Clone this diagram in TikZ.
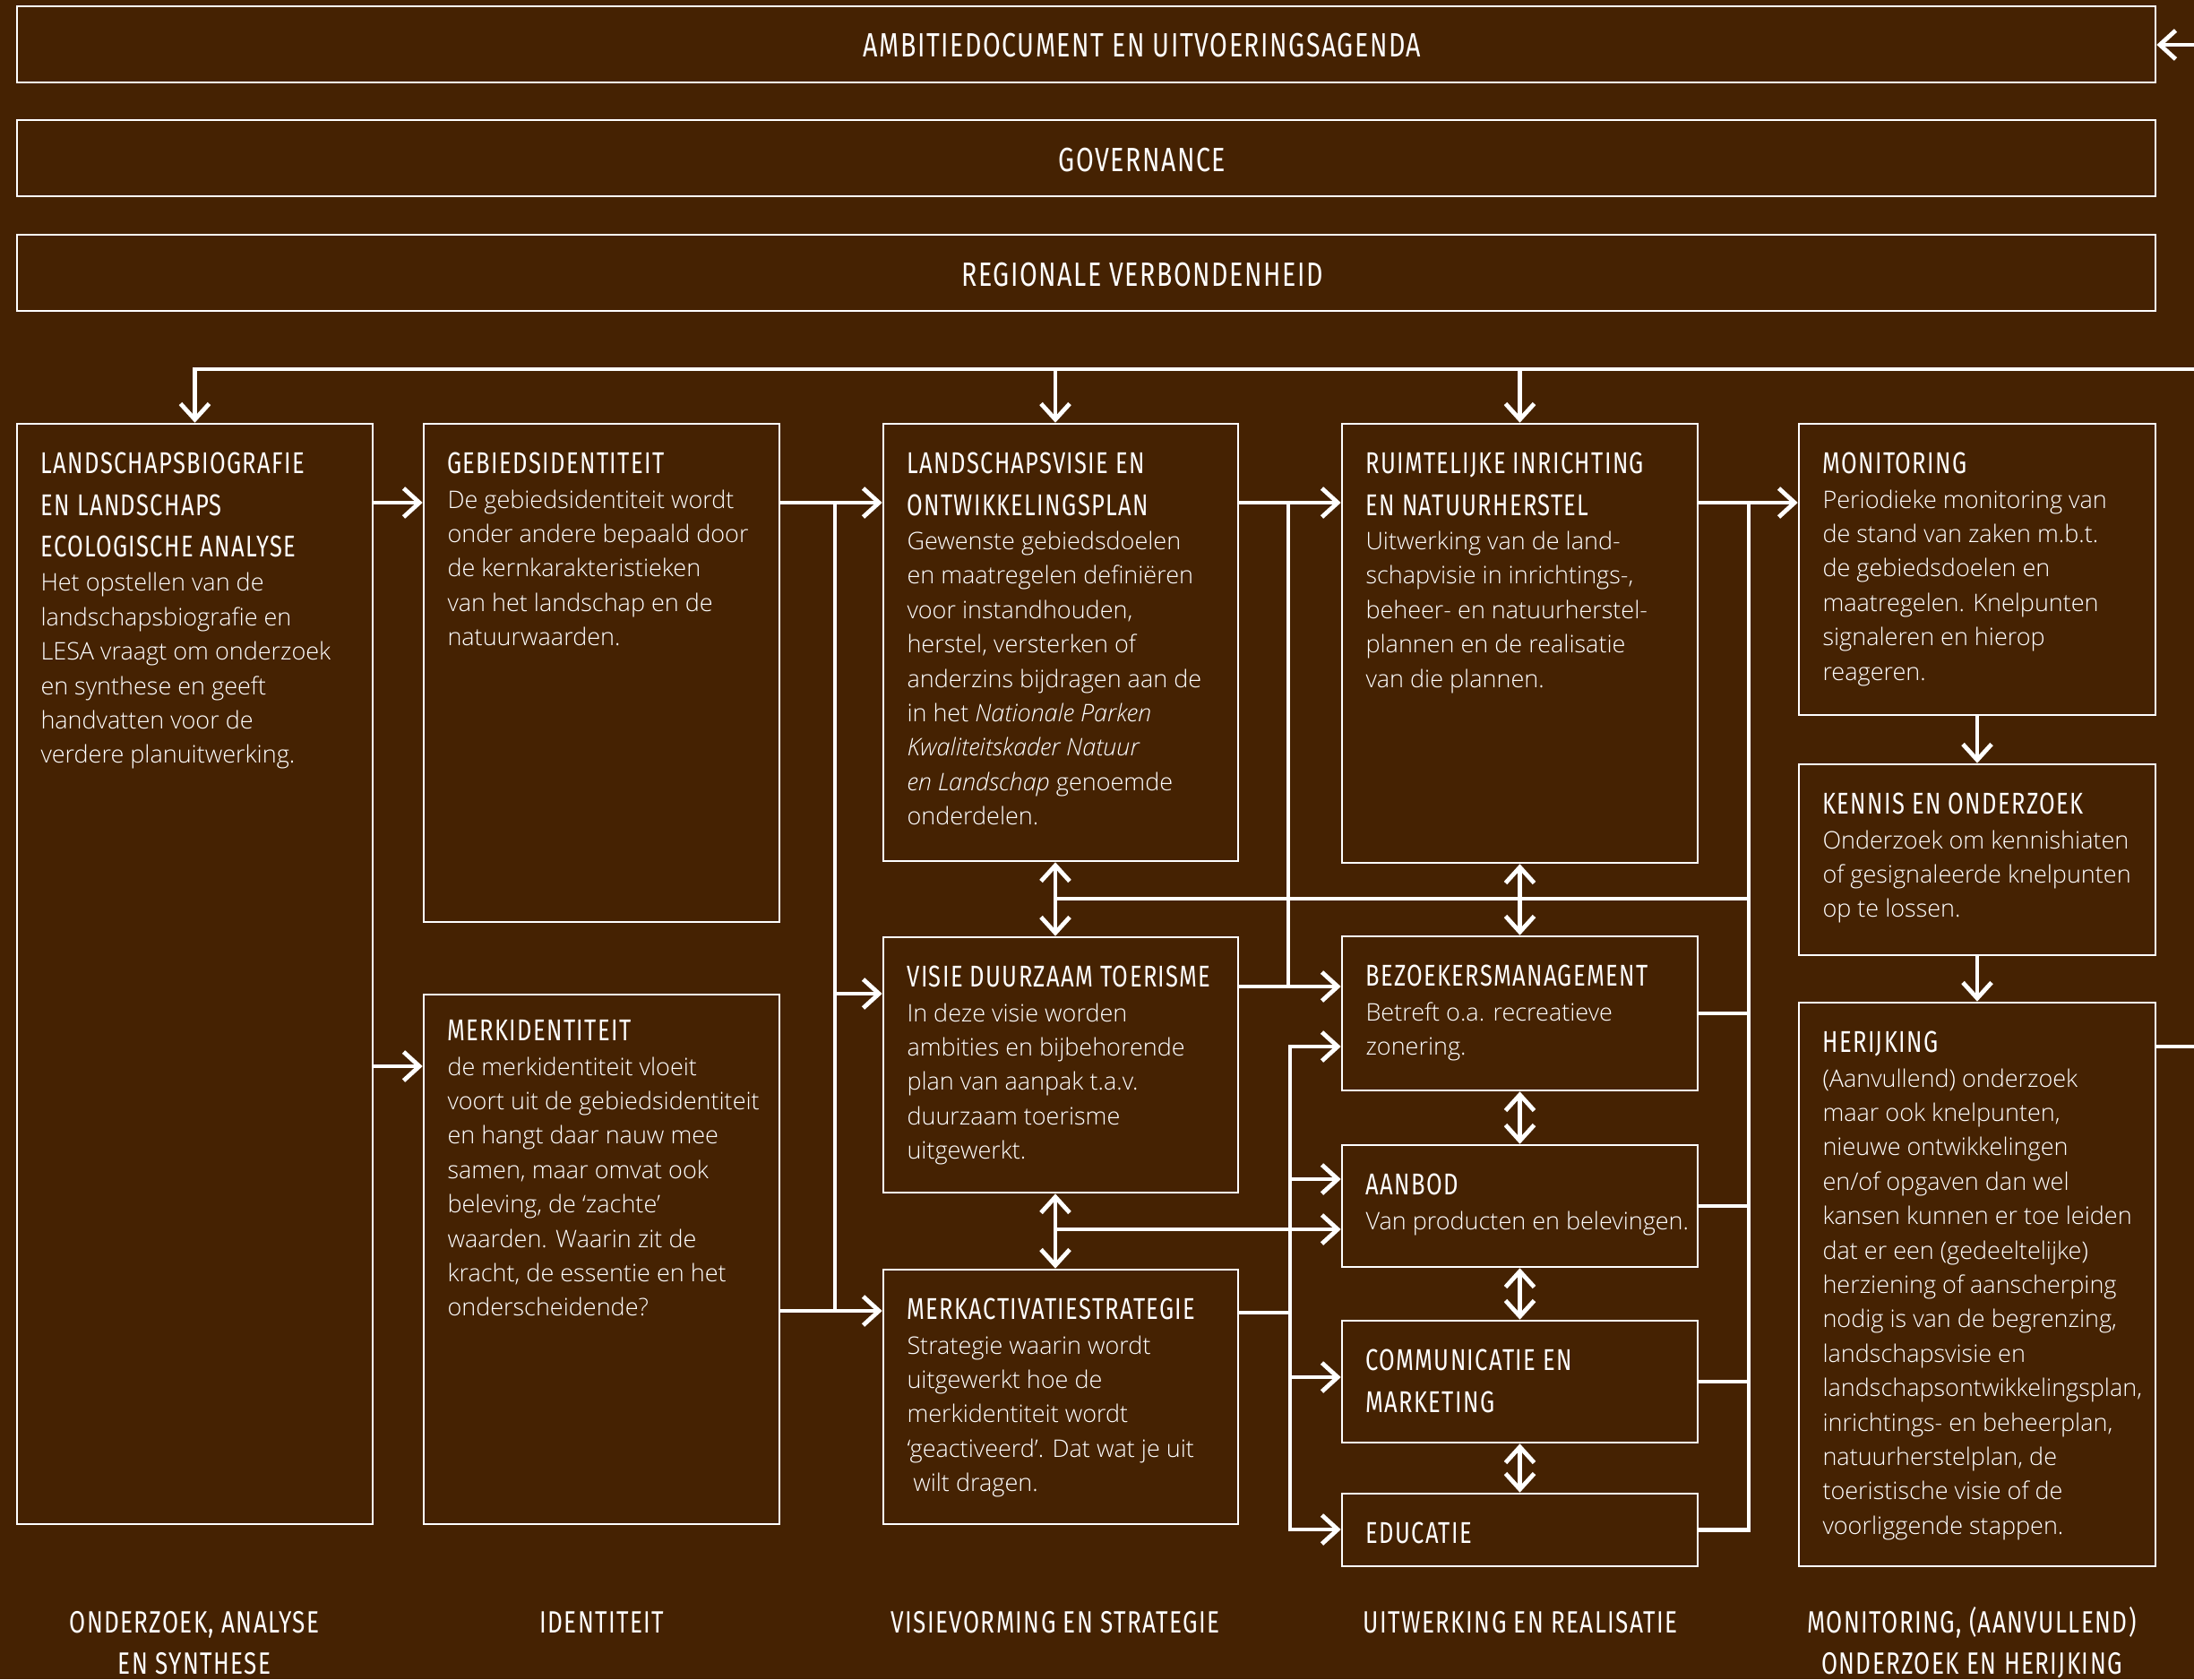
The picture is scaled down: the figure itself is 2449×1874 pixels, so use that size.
\documentclass[tikz,border=0pt]{standalone}
\usepackage{fontspec}
\setmainfont{Open Sans}[UprightFont=* Light, ItalicFont=* Light Italic]
\newfontfamily\headfont{Fira Sans}[FakeStretch=0.76,LetterSpace=4]
\usetikzlibrary{arrows.meta,fit,calc}
\definecolor{bgbrown}{RGB}{69,34,2}

% type sizes (1 picture unit = 0.25pt)
\newcommand\bodyfnt{\fontsize{6.75pt}{9.6pt}\selectfont}
\newcommand\headfnt{\headfont\fontsize{8.4pt}{11.6pt}\selectfont}
\newcommand\labfnt{\headfont\fontsize{8.6pt}{11.7pt}\selectfont}
\newcommand\barfnt{\headfont\fontsize{9.4pt}{10pt}\selectfont}
\newcommand\hd[1]{{\headfnt #1\par}}
\newcommand\bd[1]{{\bodyfnt #1\par}}
% text block in the upper left corner of a box (optional: baseline offset)
\newcommand\boxtxt[4][57]{\node[txt] (#2) at ($(#3.north west)+(27,#1)$) {\parbox[t]{120pt}{\raggedright #4}};}

\begin{document}
\begin{tikzpicture}[x=0.25pt,y=-0.25pt,
  box/.style={draw=white, line width=0.65pt, inner sep=0pt},
  conn/.style={draw=white, line width=1.2pt, line join=miter},
  arr/.style={conn, -{Straight Barb[length=4.4pt,width=8pt]}},
  darr/.style={conn, {Straight Barb[length=4.4pt,width=8pt]}-{Straight Barb[length=4.4pt,width=8pt]}},
  txt/.style={anchor=base west, inner sep=0pt, text=white},
  lab/.style={anchor=base, inner sep=0pt, text=white}]

\fill[bgbrown] (0,0) rectangle (2449,1874);
\useasboundingbox (0,0) rectangle (2449,1874);

% ---- three full-width bars
\node[box, fit={(19,7) (2406,92)}] (ambitie) {};
\node[box, fit={(19,134) (2406,219)}] (gov) {};
\node[box, fit={(19,262) (2406,347)}] (regio) {};
\node[lab] (ambitietxt) at (1275,64) {\barfnt AMBITIEDOCUMENT EN UITVOERINGSAGENDA};
\node[lab] (govtxt) at (1275,191) {\barfnt GOVERNANCE};
\node[lab] (regiotxt) at (1275,319) {\barfnt REGIONALE VERBONDENHEID};

% ---- column 1
\node[box, fit={(19,473) (416,1701)}] (lb) {};
% ---- column 2
\node[box, fit={(473,473) (870,1029)}] (geb) {};
\node[box, fit={(473,1110) (870,1701)}] (merk) {};
% ---- column 3
\node[box, fit={(986,473) (1382,961)}] (lv) {};
\node[box, fit={(986,1046) (1382,1331)}] (vdt) {};
\node[box, fit={(986,1417) (1382,1701)}] (mas) {};
% ---- column 4
\node[box, fit={(1498,473) (1895,963)}] (ruim) {};
\node[box, fit={(1498,1045) (1895,1217)}] (bez) {};
\node[box, fit={(1498,1278) (1895,1414)}] (aanbod) {};
\node[box, fit={(1498,1474) (1895,1610)}] (comm) {};
\node[box, fit={(1498,1667) (1895,1748)}] (edu) {};
% ---- column 5
\node[box, fit={(2008,473) (2406,798)}] (mon) {};
\node[box, fit={(2008,853) (2406,1066)}] (kennis) {};
\node[box, fit={(2008,1119) (2406,1748)}] (her) {};

% ---- box texts
\boxtxt{lbtxt}{lb}{\hd{LANDSCHAPSBIOGRAFIE\\EN LANDSCHAPS\\ECOLOGISCHE ANALYSE}\bd{Het opstellen van de\\landschapsbiografie en\\LESA vraagt om onderzoek\\en synthese en geeft\\handvatten voor de\\verdere planuitwerking.}}
\boxtxt{gebtxt}{geb}{\hd{GEBIEDSIDENTITEIT}\bd{De gebiedsidentiteit wordt\\onder andere bepaald door\\de kernkarakteristieken\\van het landschap en de\\natuurwaarden.}}
\boxtxt[53]{merktxt}{merk}{\hd{MERKIDENTITEIT}\bd{de merkidentiteit vloeit\\voort uit de gebiedsidentiteit\\en hangt daar nauw mee\\samen, maar omvat ook\\beleving, de ‘zachte’\\waarden. Waarin zit de\\kracht, de essentie en het\\onderscheidende?}}
\boxtxt{lvtxt}{lv}{\hd{LANDSCHAPSVISIE EN\\ONTWIKKELINGSPLAN}\bd{Gewenste gebiedsdoelen\\en maatregelen definiëren\\voor instandhouden,\\herstel, versterken of\\anderzins bijdragen aan de\\in het \textit{Nationale Parken}\\\textit{Kwaliteitskader Natuur}\\\textit{en Landschap} genoemde\\onderdelen.}}
\boxtxt{vdttxt}{vdt}{\hd{VISIE DUURZAAM TOERISME}\bd{In deze visie worden\\ambities en bijbehorende\\plan van aanpak t.a.v.\\duurzaam toerisme\\uitgewerkt.}}
\boxtxt{mastxt}{mas}{\hd{MERKACTIVATIESTRATEGIE}\bd{Strategie waarin wordt\\uitgewerkt hoe de\\merkidentiteit wordt\\‘geactiveerd’. Dat wat je uit\\\hspace*{0.25em}wilt dragen.}}
\boxtxt{ruimtxt}{ruim}{\hd{RUIMTELIJKE INRICHTING\\EN NATUURHERSTEL}\bd{Uitwerking van de land-\\schapvisie in inrichtings-,\\beheer- en natuurherstel-\\plannen en de realisatie\\van die plannen.}}
\boxtxt{beztxt}{bez}{\hd{BEZOEKERSMANAGEMENT}\bd{Betreft o.a. recreatieve\\zonering.}}
\boxtxt{aanbodtxt}{aanbod}{\hd{AANBOD}\bd{Van producten en belevingen.}}
\boxtxt{commtxt}{comm}{\hd{COMMUNICATIE EN\\MARKETING}}
\boxtxt{edutxt}{edu}{\hd{EDUCATIE}}
\boxtxt{montxt}{mon}{\hd{MONITORING}\bd{Periodieke monitoring van\\de stand van zaken m.b.t.\\de gebiedsdoelen en\\maatregelen. Knelpunten\\signaleren en hierop\\reageren.}}
\boxtxt{kennistxt}{kennis}{\hd{KENNIS EN ONDERZOEK}\bd{Onderzoek om kennishiaten\\of gesignaleerde knelpunten\\op te lossen.}}
\boxtxt{hertxt}{her}{\hd{HERIJKING}\bd{(Aanvullend) onderzoek\\maar ook knelpunten,\\nieuwe ontwikkelingen\\en/of opgaven dan wel\\kansen kunnen er toe leiden\\dat er een (gedeeltelijke)\\herziening of aanscherping\\nodig is van de begrenzing,\\landschapsvisie en\\landschapsontwikkelingsplan,\\inrichtings- en beheerplan,\\natuurherstelplan, de\\toeristische visie of de\\voorliggende stappen.}}

% ---- phase labels along the bottom
\node[lab] (lab1) at (217,1822) {\parbox[t]{150pt}{\centering\labfnt ONDERZOEK, ANALYSE\\EN SYNTHESE}};
\node[lab] (lab2) at (672,1822) {\parbox[t]{150pt}{\centering\labfnt IDENTITEIT}};
\node[lab] (lab3) at (1178,1822) {\parbox[t]{150pt}{\centering\labfnt VISIEVORMING EN STRATEGIE}};
\node[lab] (lab4) at (1697,1822) {\parbox[t]{150pt}{\centering\labfnt UITWERKING EN REALISATIE}};
\node[lab] (lab5) at (2201,1822) {\parbox[t]{150pt}{\centering\labfnt MONITORING, (AANVULLEND)\\ONDERZOEK EN HERIJKING}};

% ---- junction points
\coordinate (edgeA) at (2449,50);
\coordinate (edgeT) at (2449,412);
\coordinate (edgeH) at (2449,1168);
\coordinate (ya) at (0,561);
\coordinate (yb) at (0,1190);
\coordinate (yv) at (0,1109);
\coordinate (ym) at (0,1463);
\coordinate (y1003) at (0,1003);
\coordinate (y1101) at (0,1101);
\coordinate (y1316) at (0,1316);
\coordinate (y1372) at (0,1372);
\coordinate (y1465) at (0,1465);
\coordinate (y1537) at (0,1537);
\coordinate (xc3) at (1178,0);
\coordinate (busL) at (932,561);
\coordinate (busM) at (1438,561);
\coordinate (lbusTop) at (1440,1168);
\coordinate (lbusBot) at (1440,1707);
\coordinate (busR) at (1952,561);

% ---- feedback loop and top distribution line
\draw[arr] (edgeA) -- (ambitie.east |- edgeA);
\draw[conn] (her.east |- edgeH) -- (edgeH);
\draw[arr] (edgeT) -- (lb.north |- edgeT) -- (lb.north);
\draw[arr] (xc3 |- edgeT) -- (xc3 |- lv.north);
\draw[arr] (ruim.north |- edgeT) -- (ruim.north);

% ---- column 1 -> 2
\draw[arr] (lb.east |- ya) -- (geb.west |- ya);
\draw[arr] (lb.east |- yb) -- (merk.west |- yb);

% ---- column 2 -> 3
\draw[arr] (geb.east |- ya) -- (lv.west |- ya);
\draw[conn] (busL) -- (busL |- ym);
\draw[arr] (busL |- yv) -- (vdt.west |- yv);
\draw[arr] (merk.east |- ym) -- (mas.west |- ym);
\draw[darr] (xc3 |- lv.south) -- (xc3 |- vdt.north);
\draw[darr] (xc3 |- vdt.south) -- (xc3 |- mas.north);

% ---- column 3 -> 4
\draw[arr] (lv.east |- ya) -- (ruim.west |- ya);
\draw[conn] (busM) -- (busM |- y1101);
\draw[arr] (vdt.east |- y1101) -- (bez.west |- y1101);
\draw[conn] (xc3 |- y1003) -- (busR |- y1003);
\draw[arr] (xc3 |- y1372) -- (aanbod.west |- y1372);
\draw[darr] (bez.west |- lbusTop) -- (lbusTop) -- (lbusBot) -- (edu.west |- lbusBot);
\draw[arr] (lbusTop |- y1316) -- (aanbod.west |- y1316);
\draw[arr] (lbusTop |- y1537) -- (comm.west |- y1537);
\draw[conn] (mas.east |- y1465) -- (lbusTop |- y1465);

% ---- column 4 chain and -> 5
\draw[darr] (ruim.south) -- (bez.north);
\draw[darr] (bez.south) -- (aanbod.north);
\draw[darr] (aanbod.south) -- (comm.north);
\draw[darr] (comm.south) -- (edu.north);
\draw[arr] (ruim.east |- ya) -- (mon.west |- ya);
\draw[conn] (busR) -- (busR |- edu.east) -- (edu.east);
\draw[conn] (bez.east) -- (bez.east -| busR);
\draw[conn] (aanbod.east) -- (aanbod.east -| busR);
\draw[conn] (comm.east) -- (comm.east -| busR);

% ---- column 5 chain
\draw[arr] (mon.south) -- (kennis.north);
\draw[arr] (kennis.south) -- (her.north);
\end{tikzpicture}
\end{document}
